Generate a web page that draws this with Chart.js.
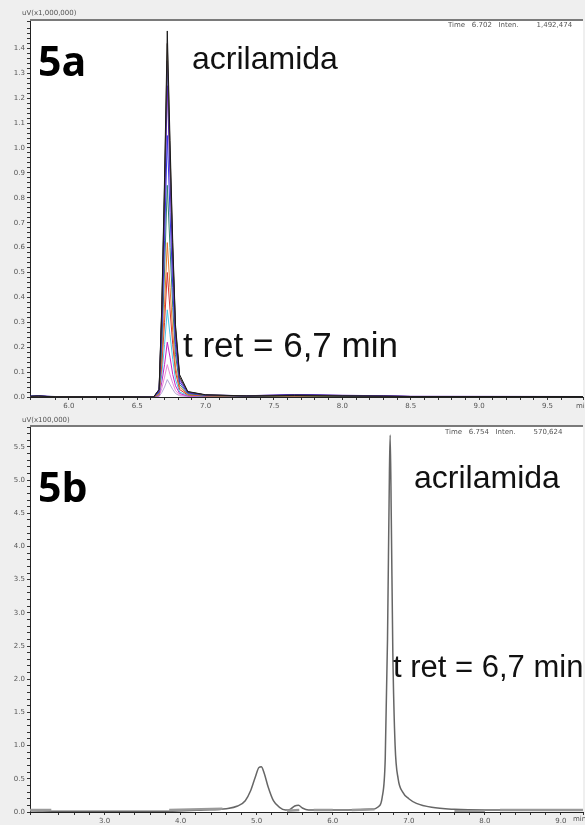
<!DOCTYPE html>
<html>
<head>
<meta charset="utf-8">
<script src="https://cdn.jsdelivr.net/npm/chart.js@4.4.1/dist/chart.umd.min.js"></script>
<style>
  html, body { margin: 0; padding: 0; background: #efefef; }
  #wrap { position: relative; width: 585px; height: 825px; overflow: hidden; }
  canvas { position: absolute; left: 0; }
  #chartA { top: 0; }
  #chartB { top: 412px; }
  .note { position: absolute; white-space: nowrap; line-height: 1; color: #111; }
  .big { font-family: "Open Sans", sans-serif; font-weight: 700; font-size: 41px; color: #000; }
  .lbl { font-family: "Liberation Sans", Arial, sans-serif; font-size: 32px; }
  .tiny { font-family: "DejaVu Sans", sans-serif; font-size: 7px; color: #555; }
</style>
</head>
<body>
<div id="wrap">
  <canvas id="chartA" width="585" height="412"></canvas>
  <canvas id="chartB" width="585" height="413"></canvas>

  <div class="note tiny" style="left:22px; top:10px;">uV(x1,000,000)</div>
  <div class="note tiny" style="left:448px; top:22px;">Time&nbsp;&nbsp;&nbsp;6.702&nbsp;&nbsp;&nbsp;Inten.&nbsp;&nbsp;&nbsp;&nbsp;&nbsp;&nbsp;&nbsp;&nbsp;1,492,474</div>
  <div class="note tiny" style="left:576px; top:403px;">min</div>
  <div class="note big" style="left:38px; top:40px;">5a</div>
  <div class="note lbl" style="left:192px; top:42px;">acrilamida</div>
  <div class="note lbl" style="left:183px; top:327px; font-size:35px;">t ret = 6,7 min</div>

  <div class="note tiny" style="left:22px; top:417px;">uV(x100,000)</div>
  <div class="note tiny" style="left:445px; top:429px;">Time&nbsp;&nbsp;&nbsp;6.754&nbsp;&nbsp;&nbsp;Inten.&nbsp;&nbsp;&nbsp;&nbsp;&nbsp;&nbsp;&nbsp;&nbsp;570,624</div>
  <div class="note tiny" style="left:573px; top:816px;">min</div>
  <div class="note big" style="left:38px; top:466px;">5b</div>
  <div class="note lbl" style="left:414px; top:461px;">acrilamida</div>
  <div class="note lbl" style="left:393px; top:651px; font-size:31px;">t ret = 6,7 min</div>
</div>

<script>
// 5a: overlaid injections, retention time in min, signal in uV x 1,000,000
const times5a = [5.72, 5.78, 5.84, 5.90, 6.40, 6.62, 6.66, 6.68, 6.70, 6.72, 6.74, 6.76, 6.78, 6.81, 6.87, 7.00, 7.30, 7.50, 7.65, 7.80, 8.00, 8.30, 8.50, 9.76];
const run1 = [0.003, 0.004, 0.002, 0.001, 0.001, 0, 0.03, 0.37, 0.88, 1.47, 1.03, 0.62, 0.29, 0.09, 0.022, 0.009, 0.004, 0.005, 0.006, 0.005, 0.004, 0.003, 0.002, 0.002];
const run2 = [0.002, 0.003, 0.002, 0.001, 0.001, 0, 0.03, 0.36, 0.85, 1.42, 0.99, 0.60, 0.28, 0.08, 0.021, 0.008, 0.004, 0.005, 0.007, 0.006, 0.004, 0.003, 0.002, 0.002];
const run3 = [0.004, 0.005, 0.003, 0.002, 0.001, 0, 0.03, 0.34, 0.81, 1.35, 0.95, 0.57, 0.27, 0.08, 0.020, 0.008, 0.005, 0.007, 0.009, 0.008, 0.006, 0.004, 0.002, 0.002];
const run4 = [0.002, 0.004, 0.003, 0.001, 0.001, 0, 0.025, 0.31, 0.75, 1.25, 0.88, 0.53, 0.25, 0.07, 0.019, 0.008, 0.005, 0.008, 0.010, 0.009, 0.007, 0.005, 0.003, 0.002];
const run5 = [0.003, 0.005, 0.002, 0.001, 0.001, 0, 0.02, 0.26, 0.63, 1.05, 0.74, 0.44, 0.21, 0.06, 0.016, 0.007, 0.004, 0.006, 0.008, 0.007, 0.005, 0.004, 0.002, 0.002];
const run6 = [0.002, 0.003, 0.002, 0.001, 0.001, 0, 0.017, 0.21, 0.51, 0.85, 0.60, 0.36, 0.17, 0.05, 0.013, 0.006, 0.003, 0.004, 0.005, 0.004, 0.003, 0.002, 0.002, 0.001];
const run7 = [0.001, 0.002, 0.001, 0.001, 0.001, 0, 0.012, 0.16, 0.37, 0.62, 0.44, 0.26, 0.12, 0.04, 0.010, 0.005, 0.003, 0.003, 0.004, 0.003, 0.002, 0.002, 0.001, 0.001];
const run8 = [0.001, 0.002, 0.001, 0.001, 0.001, 0, 0.01, 0.13, 0.30, 0.50, 0.35, 0.21, 0.10, 0.03, 0.008, 0.004, 0.002, 0.003, 0.003, 0.003, 0.002, 0.002, 0.001, 0.001];
const run9 = [0.001, 0.001, 0.001, 0.001, 0.001, 0, 0.007, 0.09, 0.21, 0.35, 0.25, 0.15, 0.07, 0.02, 0.006, 0.003, 0.002, 0.002, 0.003, 0.002, 0.002, 0.001, 0.001, 0.001];
const run10 = [0.001, 0.001, 0.001, 0.001, 0.001, 0, 0.005, 0.06, 0.13, 0.22, 0.16, 0.09, 0.045, 0.014, 0.004, 0.002, 0.002, 0.003, 0.004, 0.004, 0.003, 0.003, 0.002, 0.001];
const run11 = [0.001, 0.001, 0.001, 0.001, 0.001, 0, 0.003, 0.035, 0.08, 0.13, 0.09, 0.055, 0.026, 0.008, 0.003, 0.002, 0.001, 0.002, 0.002, 0.002, 0.001, 0.001, 0.001, 0.001];
const run12 = [0.001, 0.001, 0.001, 0.001, 0.001, 0, 0.002, 0.018, 0.04, 0.07, 0.05, 0.03, 0.014, 0.005, 0.002, 0.001, 0.001, 0.001, 0.001, 0.001, 0.001, 0.001, 0.001, 0.001];
const runs5a = [run1, run2, run3, run4, run5, run6, run7, run8, run9, run10, run11, run12];
const runColors = ['#1b1b1b', '#5a4630', '#23238a', '#6b22c0', '#3434e6', '#2f7f70', '#e6782a', '#d43434', '#45c8ea', '#c424c4', '#e88ad8', '#b4a6d6'];

// 5b: single sample, signal in uV x 100,000
const times5b = [2.02, 2.50, 3.00, 3.80, 4.30, 4.60, 4.75, 4.85, 4.92, 4.98, 5.03, 5.06, 5.10, 5.15, 5.22, 5.30, 5.38, 5.44, 5.50, 5.55, 5.60, 5.68, 5.90, 6.20, 6.50, 6.60, 6.65, 6.69, 6.72, 6.745, 6.755, 6.77, 6.79, 6.82, 6.86, 6.92, 7.00, 7.10, 7.30, 7.60, 8.00, 9.00, 9.29];
const signal5b = [0.02, 0.01, 0.01, 0.01, 0.03, 0.05, 0.09, 0.17, 0.32, 0.52, 0.67, 0.68, 0.58, 0.38, 0.17, 0.07, 0.03, 0.04, 0.09, 0.10, 0.06, 0.03, 0.03, 0.03, 0.04, 0.08, 0.22, 0.80, 2.60, 5.10, 5.68, 4.40, 2.40, 1.00, 0.50, 0.30, 0.20, 0.13, 0.07, 0.04, 0.03, 0.03, 0.03];
// integration baseline marks of 5b (gaps between segments)
const baseTimes5b = [2.02, 2.30, 2.31, 3.85, 4.55, 4.56, 5.40, 5.56, 5.57, 5.75, 6.00, 6.01, 6.25, 6.55, 6.56, 7.60, 8.00, 8.01, 8.20, 9.29];
const baseLevel5b = [0.03, 0.03, null, 0.03, 0.05, null, 0.02, 0.03, null, 0.03, 0.03, null, 0.03, 0.04, null, 0.01, 0.01, null, 0.03, 0.03];

// axis ranges
const xRangeA = [5.716, 9.76];
const yRangeA = [0, 1.51];
const xRangeB = [2.02, 9.29];
const yRangeB = [0, 5.8];

function toPoints(xs, ys) {
  return xs.map(function(x, i) { return {x: x, y: ys[i]}; });
}

function labelEvery(step) {
  return function(v) {
    var k = v / step;
    return Math.abs(k - Math.round(k)) < 0.001 ? v.toFixed(1) : '';
  };
}

const panelBg = {
  id: 'panelBg',
  beforeDraw: function(chart) {
    var ctx = chart.ctx, a = chart.chartArea;
    ctx.save();
    ctx.fillStyle = '#efefef';
    ctx.fillRect(0, 0, chart.width, chart.height);
    ctx.fillStyle = '#ffffff';
    ctx.fillRect(a.left, a.top, a.right - a.left, a.bottom - a.top);
    ctx.restore();
  },
  afterDraw: function(chart) {
    var ctx = chart.ctx, a = chart.chartArea;
    ctx.save();
    ctx.strokeStyle = '#7a7a7a';
    ctx.lineWidth = 2;
    ctx.beginPath();
    ctx.moveTo(a.left, a.top - 1);
    ctx.lineTo(a.right, a.top - 1);
    ctx.stroke();
    ctx.restore();
  }
};

function makeAxis(range, step, labelStep, fit) {
  return {
    type: 'linear',
    min: range[0],
    max: range[1],
    afterFit: fit,
    border: {display: true, color: '#222', width: 1},
    grid: {display: true, drawOnChartArea: false, drawTicks: true, tickLength: 3, tickColor: '#333'},
    ticks: {
      stepSize: step,
      autoSkip: false,
      maxRotation: 0,
      padding: 2,
      color: '#555',
      font: {family: 'DejaVu Sans', size: 7},
      callback: labelEvery(labelStep)
    }
  };
}

function baseOptions(topPad, xAxis, yAxis) {
  return {
    responsive: false,
    animation: false,
    devicePixelRatio: 1,
    layout: {padding: {top: topPad, left: 0, right: 0, bottom: 0}},
    elements: {point: {radius: 0}, line: {tension: 0}},
    plugins: {legend: {display: false}, tooltip: {enabled: false}},
    scales: {x: xAxis, y: yAxis}
  };
}

var datasetsA = runs5a.map(function(r, i) {
  return {
    data: toPoints(times5a, r),
    borderColor: runColors[i],
    borderWidth: 1,
    fill: false
  };
});

new Chart(document.getElementById('chartA'), {
  type: 'line',
  data: {datasets: datasetsA},
  options: baseOptions(21,
    makeAxis(xRangeA, 0.1, 0.5, function(s) { s.height = 15; }),
    makeAxis(yRangeA, 0.02, 0.1, function(s) { s.width = 30; })),
  plugins: [panelBg]
});

new Chart(document.getElementById('chartB'), {
  type: 'line',
  data: {
    datasets: [{
      data: toPoints(baseTimes5b, baseLevel5b),
      borderColor: '#9a9a9a',
      borderWidth: 2.5,
      spanGaps: false,
      fill: false
    }, {
      data: toPoints(times5b, signal5b),
      borderColor: '#666666',
      borderWidth: 1.5,
      cubicInterpolationMode: 'monotone',
      fill: false
    }]
  },
  options: baseOptions(15,
    makeAxis(xRangeB, 0.2, 1.0, function(s) { s.height = 13; }),
    makeAxis(yRangeB, 0.1, 0.5, function(s) { s.width = 30; })),
  plugins: [panelBg]
});
</script>
</body>
</html>
